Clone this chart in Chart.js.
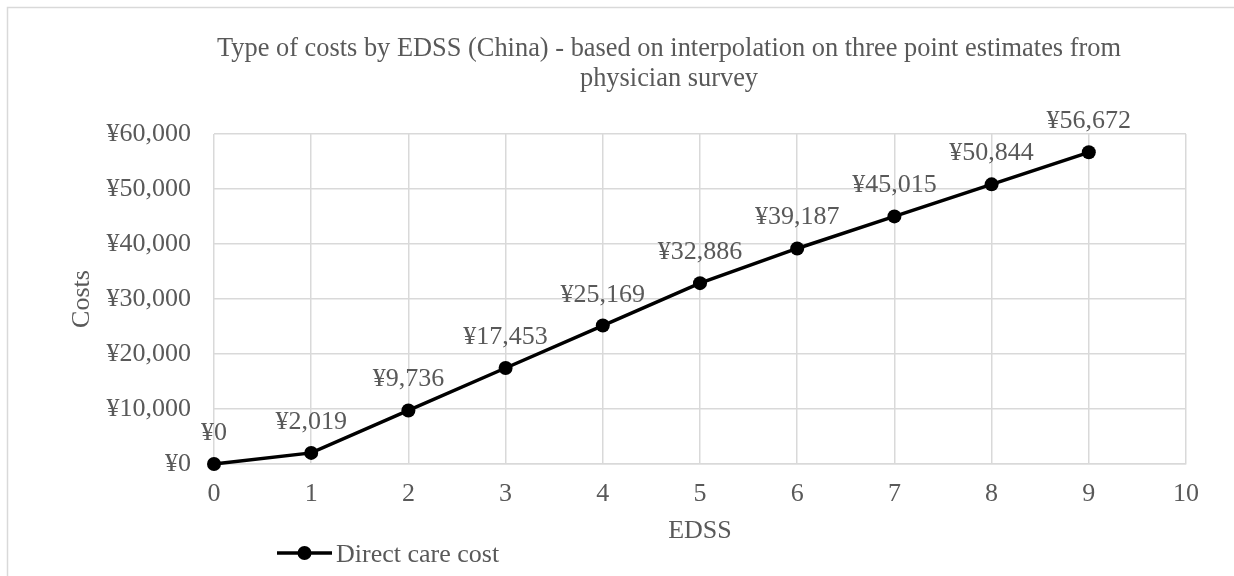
<!DOCTYPE html>
<html>
<head>
<meta charset="utf-8">
<script src="https://cdn.jsdelivr.net/npm/chart.js@4.4.1/dist/chart.umd.min.js"></script>
<style>
  html, body { margin: 0; padding: 0; background: #fff; }
  #wrap { width: 1234px; height: 576px; position: relative; }
</style>
</head>
<body>
<div id="wrap"><canvas id="costChart" width="1234" height="576"></canvas></div>
<script>
// data
var edss = [0, 1, 2, 3, 4, 5, 6, 7, 8, 9];
var directCare = [0, 2019, 9736, 17453, 25169, 32886, 39187, 45015, 50844, 56672];
var yTicks = [0, 10000, 20000, 30000, 40000, 50000, 60000];
var titleLines = [
    'Type of costs by EDSS (China) - based on interpolation on three point estimates from',
    'physician survey'
];
var seriesName = 'Direct care cost';

var FONT = '"Liberation Serif", "Times New Roman", serif';
var TXT = '#595959';
var GRID = '#d9d9d9';

function yen(v) {
    return '\u00a5' + Number(v).toLocaleString('en-US');
}

// frame, title, legend and point labels (Excel style)
var decorPlugin = {
    id: 'decor',
    beforeDraw: function(chart) {
        var ctx = chart.ctx;
        ctx.save();
        ctx.fillStyle = '#fff';
        ctx.fillRect(0, 0, chart.width, chart.height);
        ctx.strokeStyle = GRID;
        ctx.lineWidth = 1.5;
        ctx.strokeRect(7.5, 7.5, 1300, 600);
        ctx.restore();
    },
    afterDatasetsDraw: function(chart) {
        var ctx = chart.ctx;
        var meta = chart.getDatasetMeta(0);
        ctx.save();
        ctx.font = '26px ' + FONT;
        ctx.fillStyle = TXT;
        ctx.textAlign = 'center';
        ctx.textBaseline = 'alphabetic';
        meta.data.forEach(function(pt, i) {
            ctx.fillText(yen(directCare[i]), pt.x, pt.y - 24);
        });
        ctx.restore();
    },
    afterDraw: function(chart) {
        var ctx = chart.ctx;
        ctx.save();
        ctx.font = '26.4px ' + FONT;
        ctx.fillStyle = TXT;
        ctx.textAlign = 'center';
        ctx.textBaseline = 'alphabetic';
        ctx.fillText(titleLines[0], 669, 56);
        ctx.fillText(titleLines[1], 669, 86);

        // legend
        ctx.font = '26px ' + FONT;
        ctx.strokeStyle = '#000';
        ctx.lineWidth = 3.5;
        ctx.beginPath();
        ctx.moveTo(277, 553);
        ctx.lineTo(332, 553);
        ctx.stroke();
        ctx.fillStyle = '#000';
        ctx.beginPath();
        ctx.arc(304.5, 553, 7, 0, Math.PI * 2);
        ctx.fill();
        ctx.fillStyle = TXT;
        ctx.textAlign = 'left';
        ctx.fillText(seriesName, 336, 562);
        ctx.restore();
    }
};

var ctx = document.getElementById('costChart').getContext('2d');
var costChart = new Chart(ctx, {
    type: 'line',
    data: {
        datasets: [{
            label: seriesName,
            data: edss.map(function(x, i) { return { x: x, y: directCare[i] }; }),
            borderColor: '#000',
            backgroundColor: '#000',
            borderWidth: 3.5,
            pointRadius: 7,
            pointHoverRadius: 7,
            pointBackgroundColor: '#000',
            pointBorderWidth: 0,
            tension: 0,
            clip: false
        }]
    },
    options: {
        responsive: false,
        animation: false,
        events: [],
        layout: { padding: { top: 134, left: 0, right: 48, bottom: 29 } },
        plugins: {
            legend: { display: false },
            title: { display: false },
            tooltip: { enabled: false }
        },
        scales: {
            x: {
                type: 'linear',
                min: 0,
                max: 10,
                ticks: {
                    stepSize: 1,
                    padding: 15,
                    color: TXT,
                    font: { family: FONT, size: 26 }
                },
                grid: { color: GRID, lineWidth: 1.5, drawTicks: false },
                border: { color: GRID, width: 1.5 },
                title: {
                    display: true,
                    text: 'EDSS',
                    color: TXT,
                    font: { family: FONT, size: 26 },
                    padding: { top: 0, bottom: 0 }
                },
                afterFit: function(scale) { scale.height = 83; }
            },
            y: {
                min: 0,
                max: 60000,
                afterBuildTicks: function(scale) {
                    scale.ticks = yTicks.map(function(v) { return { value: v }; });
                },
                ticks: {
                    padding: 23,
                    color: TXT,
                    font: { family: FONT, size: 26 },
                    callback: function(v) { return yen(v); }
                },
                grid: { color: GRID, lineWidth: 1.5, drawTicks: false },
                border: { display: false },
                title: {
                    display: true,
                    text: 'Costs',
                    color: TXT,
                    font: { family: FONT, size: 26 },
                    padding: { top: 67, bottom: 0 }
                },
                afterFit: function(scale) { scale.width = 214; }
            }
        }
    },
    plugins: [decorPlugin]
});
</script>
</body>
</html>
